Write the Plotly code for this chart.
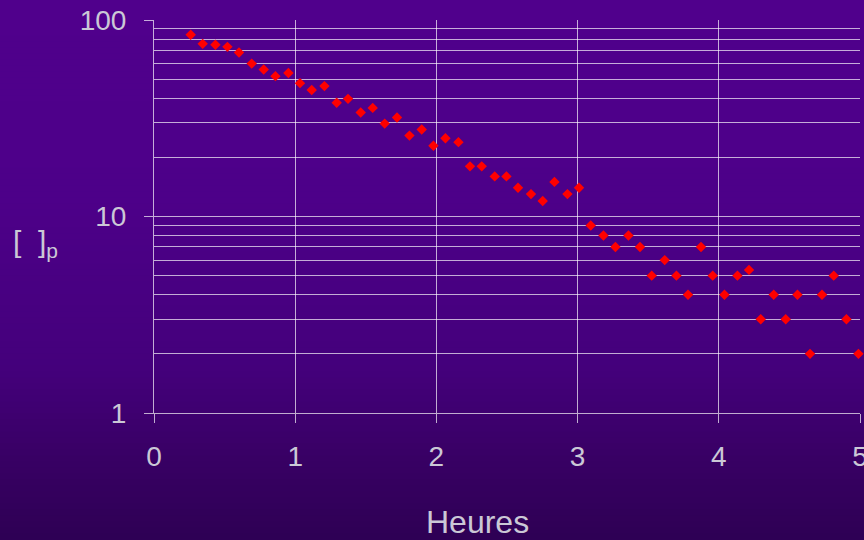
import plotly.graph_objects as go

# ---- data ----
hours = [0.260, 0.345, 0.435, 0.520, 0.602, 0.692, 0.777, 0.860, 0.952, 1.034,
         1.117, 1.207, 1.294, 1.374, 1.464, 1.549, 1.634, 1.721, 1.809, 1.896,
         1.979, 2.064, 2.156, 2.238, 2.321, 2.413, 2.496, 2.578, 2.670, 2.753,
         2.836, 2.928, 3.010, 3.093, 3.183, 3.268, 3.360, 3.442, 3.525, 3.617,
         3.700, 3.782, 3.874, 3.957, 4.040, 4.132, 4.214, 4.297, 4.389, 4.474,
         4.557, 4.646, 4.731, 4.814, 4.904, 4.989]
conc = [84.1, 75.6, 74.8, 73.0, 68.3, 60.0, 56.0, 51.8, 53.7, 47.7,
        44.0, 46.1, 37.9, 39.7, 33.8, 35.7, 29.7, 31.9, 25.8, 27.7,
        22.9, 25.0, 23.9, 18.0, 18.0, 16.0, 16.0, 14.0, 13.0, 12.0,
        15.0, 13.0, 14.0, 9.0, 8.0, 7.0, 8.0, 7.0, 5.0, 6.0,
        5.0, 4.0, 7.0, 5.0, 4.0, 5.0, 5.35, 3.0, 4.0, 3.0,
        4.0, 2.0, 4.0, 5.0, 3.0, 2.0]
x_ticks = [0, 1, 2, 3, 4, 5]
y_ticks = [1, 10, 100]
x_title = "Heures"
y_title = "[&nbsp;&nbsp;]<sub>p</sub>"

# ---- geometry / style ----
W, H = 864, 540
L, R, T, B = 154, 860, 20, 413
TXT = "#CBC8D6"
GRID = "rgba(255,255,255,0.68)"
FONT = "Liberation Sans, Arial, sans-serif"


def xp(px):
    return (px - L) / (R - L)


def yp(py):
    return (B - py) / (B - T)


# vertical gradient background as thin bands
stops = [(0, (80, 0, 140)), (200, (77, 0, 137)), (370, (68, 0, 123)),
         (460, (56, 0, 100)), (540, (46, 0, 84))]


def col_at(y):
    for (y0, c0), (y1, c1) in zip(stops[:-1], stops[1:]):
        if y0 <= y <= y1:
            t = (y - y0) / (y1 - y0)
            return tuple(round(a + (b - a) * t) for a, b in zip(c0, c1))
    return stops[-1][1]


shapes = []
step = 6
for y0 in range(0, H, step):
    c = col_at(y0 + step / 2)
    shapes.append(dict(type="rect", xref="paper", yref="paper",
                       x0=xp(-2), x1=xp(W + 2), y0=yp(y0 + step + 0.5), y1=yp(y0 - 0.5),
                       fillcolor="rgb(%d,%d,%d)" % c, line=dict(width=0),
                       layer="below"))

fig = go.Figure()
fig.add_trace(go.Scatter(
    x=hours, y=conc, mode="markers",
    marker=dict(symbol="diamond", size=8, color="#FF0000", line=dict(width=0)),
    showlegend=False, cliponaxis=False,
))

fig.update_layout(
    width=W, height=H,
    margin=dict(l=L, r=W - R, t=T, b=H - B, autoexpand=False),
    paper_bgcolor="rgb(70,0,124)",
    plot_bgcolor="rgba(0,0,0,0)",
    shapes=shapes,
    font=dict(family=FONT, color=TXT),
    showlegend=False,
    annotations=[
        dict(text=x_title, xref="paper", yref="paper", x=xp(477), y=yp(522),
             xanchor="center", yanchor="middle", showarrow=False,
             font=dict(size=32, color=TXT, family=FONT)),
        dict(text=y_title, xref="paper", yref="paper", x=xp(11), y=yp(243),
             xanchor="left", yanchor="middle", showarrow=False,
             font=dict(size=30, color=TXT, family=FONT)),
    ],
)

fig.update_xaxes(
    range=[0, 5], tickvals=x_ticks, ticktext=[str(v) for v in x_ticks],
    showgrid=True, gridcolor=GRID, gridwidth=1,
    showline=True, linecolor=GRID, linewidth=1,
    ticks="outside", ticklen=9, tickcolor=GRID, tickwidth=1,
    tickfont=dict(size=28, color=TXT, family=FONT),
    ticklabelstandoff=9, ticklabeloverflow="allow", zeroline=False,
)

fig.update_yaxes(
    type="log", range=[0, 2], tickvals=y_ticks, ticktext=[str(v) for v in y_ticks],
    showgrid=True, gridcolor=GRID, gridwidth=1,
    showline=True, linecolor=GRID, linewidth=1,
    ticks="outside", ticklen=9, tickcolor=GRID, tickwidth=1,
    tickfont=dict(size=28, color=TXT, family=FONT),
    ticklabelstandoff=12, zeroline=False,
    minor=dict(tickvals=[2, 3, 4, 5, 6, 7, 8, 9, 20, 30, 40, 50, 60, 70, 80, 90],
               showgrid=True, gridcolor=GRID, gridwidth=1, ticks=""),
)

fig.write_html(
    "out.html",
    config={"displayModeBar": False},
    post_script="document.body.style.margin='0';document.body.style.padding='0';"
                "document.body.style.overflow='hidden';"
                "document.body.style.background='rgb(46,0,84)';",
)
